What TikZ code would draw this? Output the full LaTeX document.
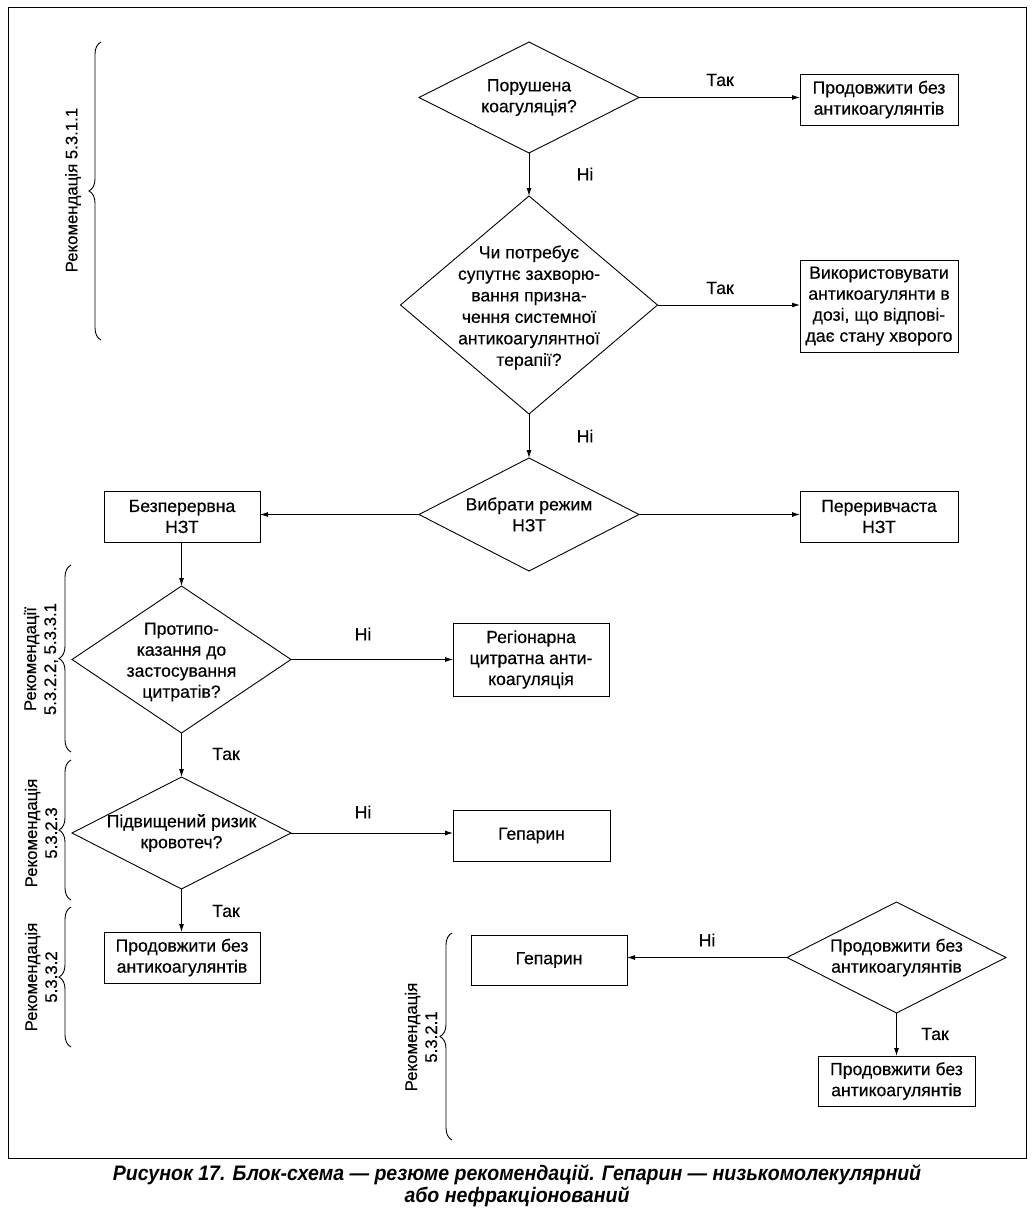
\documentclass[tikz,border=0pt]{standalone}
\usepackage{fontspec}
\setmainfont{Liberation Sans}[FakeBold=0.4]
\newfontfamily\capfont[FakeStretch=0.93]{Liberation Sans}
\usetikzlibrary{shapes.geometric,arrows.meta,decorations.pathreplacing}
\begin{document}
\begin{tikzpicture}[x=1pt,y=-1pt,
  txt/.style={font=\fontsize{17.6}{21}\selectfont, text=black},
  box/.style={draw, txt, align=center, inner sep=0pt, outer sep=0pt, line width=0.9pt},
  dia/.style={draw, diamond, inner sep=0pt, outer sep=0pt, line width=0.9pt},
  arr/.style={line width=0.9pt, -{Latex[length=8pt,width=5pt]}},
  lab/.style={txt},
  brc/.style={decorate, line width=0.9pt, decoration={brace, amplitude=12pt}},
  rec/.style={rotate=90, align=center, text=black, font=\fontsize{16.8}{20}\selectfont}]
\useasboundingbox (0,0) rectangle (1033,1212);
\draw[line width=1pt] (8,8) rectangle (1026,1158);

% diamonds
\node[dia, minimum width=220pt, minimum height=111pt] (d1) at (529,97.5) {};
\node[txt, align=center] at (d1) {Порушена\\коагуляція?};
\node[dia, minimum width=257pt, minimum height=218pt] (d2) at (529,305) {};
\node[txt, align=center, font=\fontsize{17.6}{21.5}\selectfont] at (529,307.5) {Чи потребує\\супутнє захворю-\\вання призна-\\чення системної\\антикоагулянтної\\терапії?};
\node[dia, minimum width=220pt, minimum height=113pt] (d3) at (529,514.5) {};
\node[txt, align=center] at (d3) {Вибрати режим\\НЗТ};
\node[dia, minimum width=219pt, minimum height=147pt] (d4) at (181.5,659.5) {};
\node[txt, align=center] at (181.5,662) {Протипо-\\казання до\\застосування\\цитратів?};
\node[dia, minimum width=219pt, minimum height=112pt] (d5) at (181.5,833) {};
\node[txt, align=center] at (d5) {Підвищений ризик\\кровотеч?};
\node[dia, minimum width=219pt, minimum height=111pt] (d6) at (896.5,957.5) {};
\node[txt, align=center] at (d6) {Продовжити без\\антикоагулянтів};

% boxes
\node[box, minimum width=158pt, minimum height=51pt] (b1) at (879,99.5) {Продовжити без\\антикоагулянтів};
\node[box, minimum width=158pt, minimum height=92pt] (b2) at (879,306) {Використовувати\\антикоагулянти в\\дозі, що відпові-\\дає стану хворого};
\node[box, minimum width=156pt, minimum height=51pt] (b3) at (182,516.5) {Безперервна\\НЗТ};
\node[box, minimum width=158pt, minimum height=51pt] (b4) at (879,516.5) {Переривчаста\\НЗТ};
\node[box, minimum width=156pt, minimum height=73pt] (b5) at (531,659.5) {Регіонарна\\цитратна анти-\\коагуляція};
\node[box, minimum width=157pt, minimum height=51pt] (b6) at (531.5,835.5) {Гепарин};
\node[box, minimum width=156pt, minimum height=51pt] (b7) at (182,957.5) {Продовжити без\\антикоагулянтів};
\node[box, minimum width=156pt, minimum height=50pt] (b8) at (549,960) {Гепарин};
\node[box, minimum width=157pt, minimum height=50pt] (b9) at (896.5,1081) {Продовжити без\\антикоагулянтів};

% connectors
\draw[arr] (d1.east) -- (d1.east -| b1.west);
\draw[arr] (d1.south) -- (d2.north);
\draw[arr] (d2.east) -- (d2.east -| b2.west);
\draw[arr] (d2.south) -- (d3.north);
\draw[arr] (d3.west) -- (d3.west -| b3.east);
\draw[arr] (d3.east) -- (d3.east -| b4.west);
\draw[arr] (b3.south -| d4.north) -- (d4.north);
\draw[arr] (d4.east) -- (d4.east -| b5.west);
\draw[arr] (d4.south) -- (d5.north);
\draw[arr] (d5.east) -- (d5.east -| b6.west);
\draw[arr] (d5.south) -- (d5.south |- b7.north);
\draw[arr] (d6.west) -- (d6.west -| b8.east);
\draw[arr] (d6.south) -- (b9.north);

% labels
\node[lab] at (720,80) {Так};
\node[lab] at (585,174) {Ні};
\node[lab] at (720,288) {Так};
\node[lab] at (585,436) {Ні};
\node[lab] at (363,634) {Ні};
\node[lab] at (226,754) {Так};
\node[lab] at (363,812) {Ні};
\node[lab] at (226,911) {Так};
\node[lab] at (707,940) {Ні};
\node[lab] at (935,1034) {Так};

% braces
\coordinate (br1a) at (101,340); \coordinate (br1b) at (101,42);
\draw[brc] (br1a) -- (br1b);
\node[rec] at (73,190) {Рекомендація 5.3.1.1};
\coordinate (br2a) at (71,752); \coordinate (br2b) at (71,565);
\draw[brc] (br2a) -- (br2b);
\node[rec] at (41,659) {Рекомендації\\5.3.2.2, 5.3.3.1};
\coordinate (br3a) at (71,900); \coordinate (br3b) at (71,760);
\draw[brc] (br3a) -- (br3b);
\node[rec] at (41,833) {Рекомендація\\5.3.2.3};
\coordinate (br4a) at (71,1047); \coordinate (br4b) at (71,907);
\draw[brc] (br4a) -- (br4b);
\node[rec] at (41,977) {Рекомендація\\5.3.3.2};
\coordinate (br5a) at (452,1140); \coordinate (br5b) at (452,933);
\draw[brc] (br5a) -- (br5b);
\node[rec] at (421,1037) {Рекомендація\\5.3.2.1};

% caption
\node[align=center, font=\capfont\bfseries\itshape\fontsize{21}{22}\selectfont, text=black] at (517,1186) {Рисунок 17. Блок-схема — резюме рекомендацій. Гепарин — низькомолекулярний\\або нефракціонований};
\end{tikzpicture}
\end{document}
